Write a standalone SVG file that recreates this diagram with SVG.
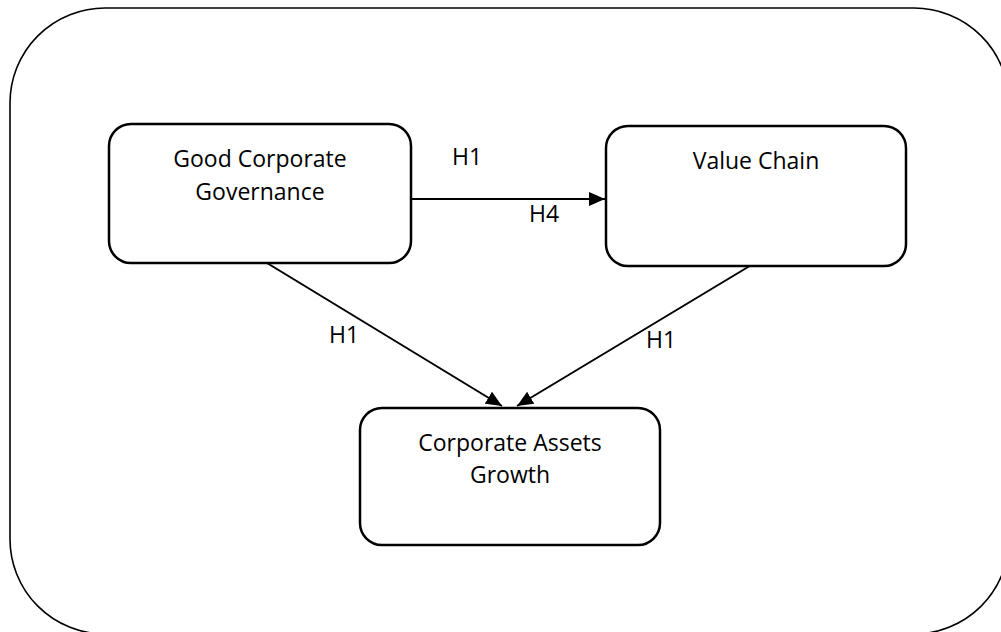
<svg xmlns="http://www.w3.org/2000/svg" width="1001" height="632" viewBox="0 0 1001 632">
  <style>
    .frame { fill: none; stroke: #000; stroke-width: 1.6; }
    .box { fill: #fff; stroke: #000; stroke-width: 2.5; }
    .edge { fill: none; stroke: #000; stroke-width: 2; }
    text { font-family: "Open Sans", "Liberation Sans", sans-serif; font-size: 23px; fill: #000; }
    .c { text-anchor: middle; }
  </style>
  <defs>
    <marker id="arrow" viewBox="0 0 16 14" refX="16" refY="7" markerWidth="16" markerHeight="14" markerUnits="userSpaceOnUse" orient="auto">
      <path d="M0,0 L16,7 L0,14 Z" fill="#000"/>
    </marker>
  </defs>
  <rect width="1001" height="632" fill="#fff"/>

  <!-- outer rounded frame -->
  <rect class="frame" x="10" y="8" width="999" height="626" rx="95" ry="95"/>

  <!-- connectors -->
  <g id="connectors">
    <line class="edge" x1="411" y1="199" x2="605" y2="199" marker-end="url(#arrow)"/>
    <line class="edge" x1="267" y1="263" x2="502" y2="406" marker-end="url(#arrow)"/>
    <line class="edge" x1="753" y1="264" x2="517" y2="406" marker-end="url(#arrow)"/>
    <text x="452" y="165">H1</text>
    <text x="529" y="222">H4</text>
    <text x="329" y="343">H1</text>
    <text x="646" y="348">H1</text>
  </g>

  <g id="node-gcg">
    <rect class="box" x="109" y="124" width="302" height="139" rx="22"/>
    <text class="c" x="260" y="167">Good Corporate</text>
    <text class="c" x="260" y="200">Governance</text>
  </g>

  <g id="node-vc">
    <rect class="box" x="606" y="126" width="300" height="140" rx="22"/>
    <text class="c" x="756" y="169">Value Chain</text>
  </g>

  <g id="node-cag">
    <rect class="box" x="360" y="408" width="300" height="137" rx="22"/>
    <text class="c" x="510" y="451">Corporate Assets</text>
    <text class="c" x="510" y="483">Growth</text>
  </g>
</svg>
